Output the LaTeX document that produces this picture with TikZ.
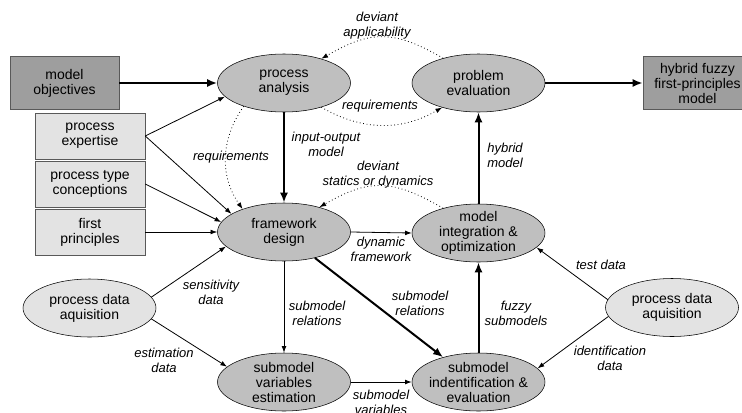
\documentclass[tikz,border=0pt]{standalone}
\usepackage{fontspec}
\setmainfont{Liberation Sans}
\usetikzlibrary{shapes.geometric, arrows.meta, positioning}

\begin{document}
\begin{tikzpicture}[x=0.75pt, y=0.75pt,
        every node/.style={font=\fontsize{10.5}{11.25}\selectfont, align=center, inner sep=0pt},
        darkbox/.style={draw=black!65, fill=black!38, minimum width=81.75pt, minimum height=39.75pt},
        lightbox/.style={draw=black!65, fill=black!11, minimum width=82.5pt, minimum height=34.5pt},
        proc/.style={ellipse, draw, thin, fill=black!25, inner sep=-4pt, minimum width=99.75pt, minimum height=43.5pt},
        dataproc/.style={proc, fill=black!11},
        lbl/.style={font=\fontsize{9.75}{11.25}\selectfont\itshape},
        main/.style={line width=1.5pt, -{Latex[length=7.5pt, width=6pt]}},
        flow/.style={line width=0.6pt, -{Latex[length=5pt, width=3.6pt]}},
        back/.style={line width=0.6pt, dotted, -{Latex[length=5pt, width=3.6pt]}}
    ]
    \useasboundingbox (0,0) rectangle (742,412);

    % inputs on the left
    \node[darkbox] (mo) at (64.5,329) {model\\objectives};
    \node[lightbox] (pex) at (90,276) {process\\expertise};
    \node[lightbox] (ptc) at (90,228) {process type\\conceptions};
    \node[lightbox] (fp) at (90,180) {first\\principles};
    \node[dataproc] (pdl) at (89.5,104) {process data\\aquisition};

    % modelling steps
    \node[proc] (pa) at (284,329) {process\\analysis};
    \node[proc] (pe) at (478.5,329) {problem\\evaluation};
    \node[proc] (fd) at (284,180) {framework\\design};
    \node[proc] (mi) at (478.5,179) {model\\integration \&\\optimization};
    \node[proc] (sve) at (284,30) {submodel\\variables\\estimation};
    \node[proc] (sid) at (478.5,30) {submodel\\indentification \&\\evaluation};
    \node[dataproc] (pdr) at (672,104.5) {process data\\aquisition};
    \node[darkbox] (hy) at (697.5,329) {hybrid fuzzy\\first-principles\\model};

    % main path
    \draw[main] (mo.east) -- (pa.west);
    \draw[main] (pa.south) -- (fd.north);
    \draw[main] (fd.320) -- (sid.145);
    \draw[main] (sid.north) -- (mi.south);
    \draw[main] (mi.north) -- (pe.south);
    \draw[main] (pe.east) -- (hy.west);

    \draw[flow] (pex.east) -- (pa.193);
    \draw[flow] (pex.east) -- (fd.161);
    \draw[flow] (ptc.east) -- (fd.171);
    \draw[flow] (fp.east) -- (fd.west);
    \draw[flow] (pdl.10) -- (fd.194);
    \draw[flow] (pdl.350) -- (sve.165);
    \draw[flow] (fd.east) -- (mi.west);
    \draw[flow] (fd.south) -- (sve.north);
    \draw[flow] (sve.east) -- (sid.west);
    \draw[flow] (pdr.173) -- (mi.346);
    \draw[flow] (pdr.188) -- (sid.13);

    % feedback
    \draw[back] (pe.145) to[out=150, in=30, looseness=1.2] (pa.33);
    \draw[back] (pa.327) to[out=-30, in=210] (pe.214);
    \draw[back] (pa.210) to[out=235, in=125] (fd.151);
    \draw[back] (mi.145) to[out=150, in=30, looseness=1.2] (fd.35);

    % connector labels
    \node[lbl] (lapp) at (377,386.5) {deviant\\applicability};
    \node[lbl] (lreq) at (380,306) {requirements};
    \node[lbl] (lio) at (326,268) {input-output\\model};
    \node[lbl] (lreqb) at (231,255) {requirements};
    \node[lbl] (ldev) at (378,237) {deviant\\statics or dynamics};
    \node[lbl] (lhyb) at (505,256.5) {hybrid\\model};
    \node[lbl] (ldyn) at (381,162.5) {dynamic\\framework};
    \node[lbl] (lsens) at (211,120) {sensitivity\\data};
    \node[lbl] (lest) at (164,51.5) {estimation\\data};
    \node[lbl] (lrel) at (317,98.5) {submodel\\relations};
    \node[lbl] (lrelb) at (420,108.5) {submodel\\relations};
    \node[lbl] (lfuz) at (516,98.5) {fuzzy\\submodels};
    \node[lbl] (ltest) at (601,147) {test data};
    \node[lbl] (lid) at (610,53.5) {identification\\data};
    \node[lbl] (lvar) at (381,9.5) {submodel\\variables};
\end{tikzpicture}
\end{document}
